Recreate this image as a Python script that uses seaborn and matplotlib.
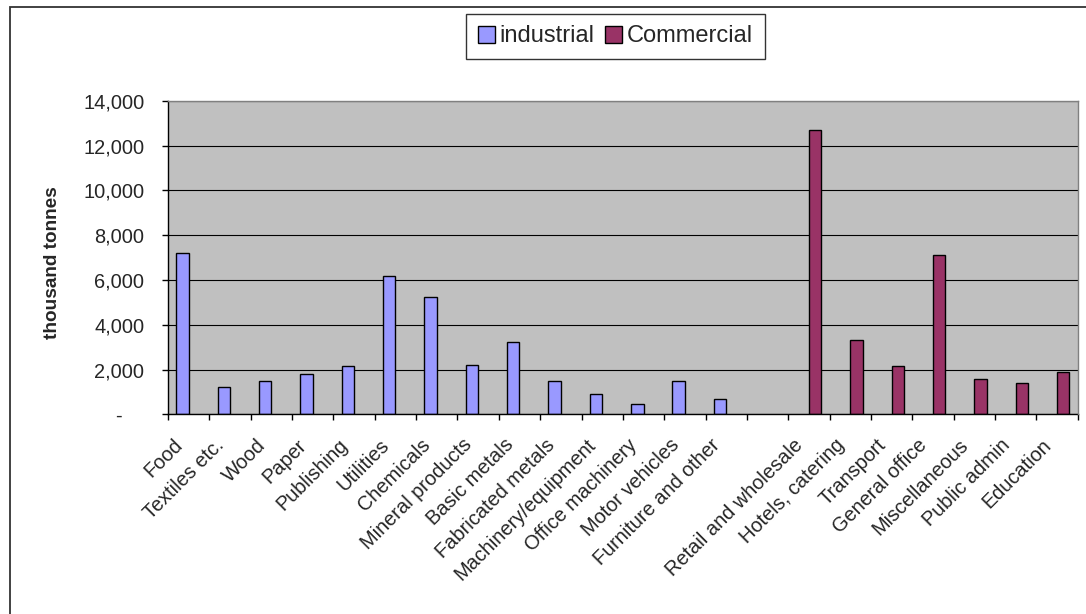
import matplotlib
matplotlib.use("Agg")
import matplotlib.pyplot as plt
import matplotlib.transforms as mtransforms
import seaborn as sns
import pandas as pd
import numpy as np
from matplotlib.patches import Patch, Rectangle
from matplotlib.ticker import FuncFormatter

# Sector categories (one empty slot separates the two groups)
industrial_cats = ["Food", "Textiles etc.", "Wood", "Paper", "Publishing", "Utilities",
                   "Chemicals", "Mineral products", "Basic metals", "Fabricated metals",
                   "Machinery/equipment", "Office machinery", "Motor vehicles",
                   "Furniture and other"]
commercial_cats = ["Retail and wholesale", "Hotels, catering", "Transport",
                   "General office", "Miscellaneous", "Public admin", "Education"]
categories = industrial_cats + [""] + commercial_cats

# Waste arisings, thousand tonnes
industrial = [7200, 1230, 1500, 1820, 2150, 6160, 5250, 2220, 3230, 1490, 890, 470, 1490, 670]
commercial = [12700, 3330, 2150, 7100, 1570, 1400, 1890]

series = ["industrial", "Commercial"]
colors = {"industrial": "#9999FF", "Commercial": "#993366"}
yticks = [0, 2000, 4000, 6000, 8000, 10000, 12000, 14000]

df = pd.concat([
    pd.DataFrame({"category": industrial_cats, "value": industrial, "sector": "industrial"}),
    pd.DataFrame({"category": commercial_cats, "value": commercial, "sector": "Commercial"}),
], ignore_index=True)

sns.set_theme(style="white")
plt.rcParams["font.family"] = ["Liberation Sans", "DejaVu Sans"]

W, H = 1086, 614
fig = plt.figure(figsize=(W / 100, H / 100), dpi=100)
ax = fig.add_axes([168 / W, 1 - 414.3 / H, (1077.7 - 168) / W, (414.3 - 100.7) / H])
ax.set_facecolor("#C0C0C0")

sns.barplot(data=df, x="category", y="value", hue="sector", order=categories,
            hue_order=series, palette=colors, width=0.6, dodge=True, saturation=1,
            edgecolor="black", linewidth=1.0, errorbar=None, legend=False, ax=ax)

ax.set_xlim(-0.5, len(categories) - 0.5)
ax.set_ylim(0, 14000)
ax.set_xlabel("")

# y axis
ax.set_yticks(yticks)
ax.yaxis.set_major_formatter(FuncFormatter(lambda v, p: "-    " if v == 0 else f"{v:,.0f}"))
ax.tick_params(axis="y", which="major", direction="out", length=4, width=1,
               color="black", labelsize=14.4, pad=13, left=True)
ax.yaxis.grid(True, color="black", linewidth=0.8)
ax.xaxis.grid(False)
ax.set_axisbelow(True)
ax.set_ylabel("thousand tonnes", fontsize=13.7, fontweight="bold")
ax.yaxis.set_label_coords((53 - 168) / (1077.7 - 168), 0.484)
ax.yaxis.label.set_va("center")

# x axis: labels at category centres, tick marks between categories
ax.set_xticks(range(len(categories)))
ax.set_xticklabels(categories, rotation=45, ha="right", va="center",
                   rotation_mode="anchor", fontsize=14.4)
ax.set_xticks(np.arange(-0.5, len(categories), 1), minor=True)
ax.tick_params(axis="x", which="major", length=0, pad=20, bottom=True)
ax.tick_params(axis="x", which="minor", direction="out", length=4, width=1,
               color="black", bottom=True)
shift = mtransforms.ScaledTranslation(-9 / 100, 0, fig.dpi_scale_trans)
for lbl in ax.get_xticklabels():
    lbl.set_transform(lbl.get_transform() + shift)

for side in ["left", "bottom"]:
    ax.spines[side].set_color("black")
    ax.spines[side].set_linewidth(1.0)
for side in ["top", "right"]:
    ax.spines[side].set_color("#808080")
    ax.spines[side].set_linewidth(1.0)
    ax.spines[side].set_zorder(3)

# legend
handles = [Patch(facecolor=colors[s], edgecolor="black", linewidth=1.0) for s in series]
leg = fig.legend(handles, series, loc="center", bbox_to_anchor=(615.5 / W, 1 - 36.5 / H),
                 ncol=2, frameon=True, fancybox=False, fontsize=17,
                 handlelength=0.72, handleheight=0.72, handletextpad=0.2,
                 columnspacing=0.45, borderpad=0.5, borderaxespad=0)
leg.get_frame().set_edgecolor("black")
leg.get_frame().set_linewidth(1.0)

# chart area border
fig.patches.append(Rectangle((10 / W, -0.1), 1.2, 1 - 7 / H + 0.1,
                             transform=fig.transFigure, fill=False,
                             edgecolor="#333333", linewidth=1.3))

fig.savefig("out.png", dpi=100)
